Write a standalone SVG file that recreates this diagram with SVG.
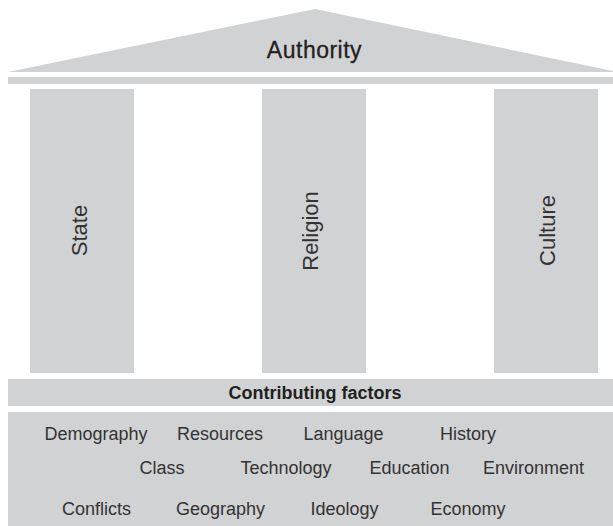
<svg xmlns="http://www.w3.org/2000/svg" width="613" height="526" viewBox="0 0 613 526">
<style>
.g{fill:#d1d2d4}
.t{font-family:"Liberation Sans",Arial,sans-serif;fill:#231f20}
.title{font-size:23px;letter-spacing:0.5px;text-anchor:middle;stroke:#231f20;stroke-width:0.3px}
.pillar{font-size:22px;text-anchor:middle;fill:#333}
.head{font-size:18px;font-weight:bold;text-anchor:middle}
.f{font-size:18px;text-anchor:middle;fill:#333}
</style>
<rect width="613" height="526" fill="#ffffff"/>
<g id="roof">
<polygon class="g" points="8,72 315,9 613,71 613,72"/>
<text class="t title" x="314.5" y="58">Authority</text>
</g>
<g id="lintel"><rect class="g" x="8" y="77" width="605" height="7"/></g>
<g id="state">
<rect class="g" x="30" y="89" width="104" height="284"/>
<text class="t pillar" transform="translate(87,230.5) rotate(-90)">State</text>
</g>
<g id="religion">
<rect class="g" x="262" y="89" width="104" height="284"/>
<text class="t pillar" transform="translate(318,231) rotate(-90)">Religion</text>
</g>
<g id="culture">
<rect class="g" x="494" y="89" width="104" height="284"/>
<text class="t pillar" transform="translate(555,230.5) rotate(-90)">Culture</text>
</g>
<g id="contributing">
<rect class="g" x="8" y="379" width="605" height="27"/>
<text class="t head" x="315" y="398.5">Contributing factors</text>
</g>
<g id="factors">
<rect class="g" x="8" y="412" width="605" height="114"/>
<text class="t f" x="96" y="440">Demography</text>
<text class="t f" x="220" y="440">Resources</text>
<text class="t f" x="343.5" y="440">Language</text>
<text class="t f" x="468" y="440">History</text>
<text class="t f" x="162" y="474">Class</text>
<text class="t f" x="286" y="474">Technology</text>
<text class="t f" x="409.5" y="474">Education</text>
<text class="t f" x="533.5" y="474">Environment</text>
<text class="t f" x="96.5" y="515">Conflicts</text>
<text class="t f" x="220.5" y="515">Geography</text>
<text class="t f" x="344.5" y="515">Ideology</text>
<text class="t f" x="468" y="515">Economy</text>
</g>
<g id="connectors"></g>
</svg>
